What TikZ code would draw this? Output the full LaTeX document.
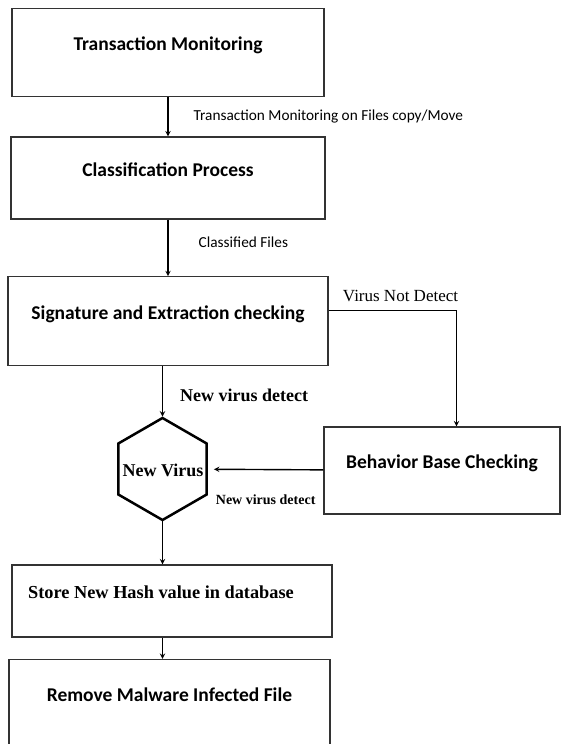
\documentclass[tikz,border=0pt]{standalone}
\usepackage{fontspec}
\setmainfont{Carlito}
\newfontfamily\tms{Liberation Serif}
\usetikzlibrary{shapes.geometric}

\begin{document}
\begin{tikzpicture}[x=1bp,y=-1bp,
	box/.style={draw=black!80,line width=1.2bp,inner sep=0pt,text depth=17bp,font=\bfseries\fontsize{19.5bp}{23bp}\selectfont},
	hexa/.style={draw,line width=2.5bp,regular polygon,regular polygon sides=6,shape border rotate=30,inner sep=0pt},
	lbl/.style={inner sep=0pt,font=\fontsize{15.3bp}{18bp}\selectfont},
	tlbl/.style={inner sep=0pt,font=\tms\bfseries\fontsize{18bp}{21bp}\selectfont}]
	\useasboundingbox (0,0) rectangle (566,744);
	\node[box,minimum width=312bp,minimum height=88bp] (tm) at (168,52.5) {Transaction Monitoring};
	\node[box,minimum width=314bp,minimum height=82bp] (cp) at (168,178) {Classification Process};
	\node[box,minimum width=320bp,minimum height=89bp] (sec) at (168,321.3) {Signature and Extraction checking};
	\node[box,minimum width=236bp,minimum height=87bp] (bbc) at (442,470.5) {Behavior Base Checking};
	\node[hexa,minimum size=102bp] (nv) at (162.5,469) {};
	\node[tlbl] (nvt) at (163,470) {New Virus};
	\node[box,minimum width=320bp,minimum height=72bp,font=\tms\bfseries\fontsize{18.3bp}{21bp}\selectfont] (snh) at (172,601) {Store New Hash value in database\hspace*{22bp}};
	\node[box,minimum width=321bp,minimum height=88bp] (rmf) at (169.5,703.5) {Remove Malware Infected File};
	\path[-stealth,line width=1.4bp]
	(tm) edge node[right=25bp,lbl] {Transaction Monitoring on Files copy/Move} (cp)
	(cp) edge node[right=30bp,lbl,pos=0.4] {Classified Files} (sec)
	(nv |- sec.south) edge node[right=17bp,tlbl,pos=0.57] {New virus detect} (nv)
	(bbc) edge[shorten >=6bp] node[below=25bp,tlbl,font=\tms\bfseries\fontsize{14bp}{17bp}\selectfont] {New virus detect} (nv)
	(nv) edge (nv |- snh.north)
	(nv |- snh.south) edge (nv |- rmf.north);
	\draw[-stealth,line width=1.4bp] ([yshift=10.6bp]sec.east) -| node[pos=0.25,above=8bp,xshift=8bp,inner sep=0pt,font=\tms\fontsize{17bp}{20bp}\selectfont] {Virus Not Detect} ([xshift=14.5bp]bbc.north);
\end{tikzpicture}
\end{document}
